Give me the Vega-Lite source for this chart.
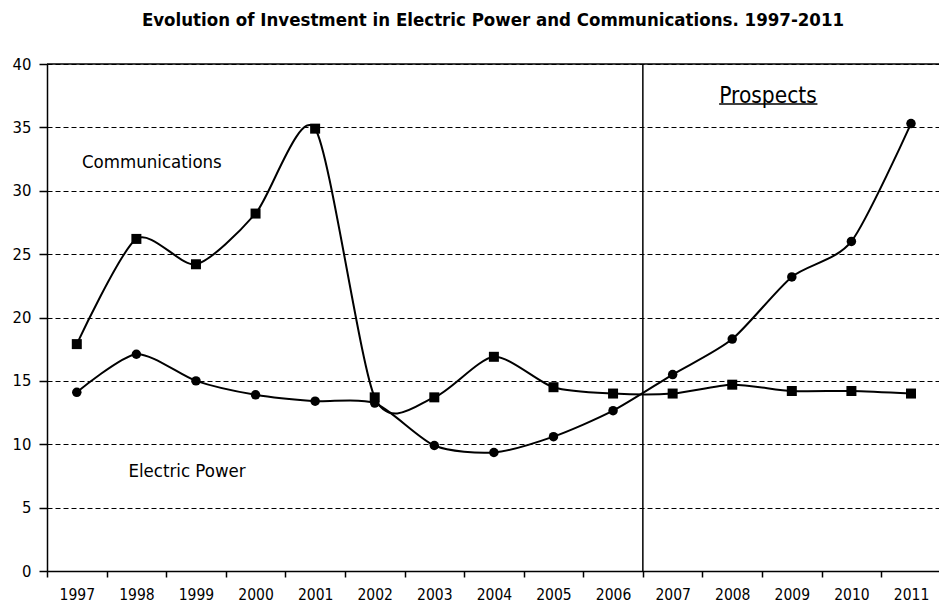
{
  "$schema": "https://vega.github.io/schema/vega-lite/v6.json",
  "width": 892,
  "height": 507,
  "autosize": "none",
  "padding": {"left": 47, "top": 64, "right": 0, "bottom": 36},
  "background": "white",
  "config": {
    "view": {"stroke": null},
    "font": "DejaVu Sans Condensed",
    "axis": {"labelFont": "DejaVu Sans Condensed", "labelColor": "black"}
  },
  "title": {
    "text": "Evolution of Investment in Electric Power and Communications. 1997-2011",
    "font": "DejaVu Sans Condensed",
    "fontSize": 18.5,
    "fontWeight": "bold",
    "color": "black",
    "anchor": "middle",
    "offset": 27
  },
  "datasets": {
    "series": [
      {"year": 1997, "series": "Communications", "value": 17.9},
      {"year": 1998, "series": "Communications", "value": 26.2},
      {"year": 1999, "series": "Communications", "value": 24.2},
      {"year": 2000, "series": "Communications", "value": 28.2},
      {"year": 2001, "series": "Communications", "value": 34.9},
      {"year": 2002, "series": "Communications", "value": 13.7},
      {"year": 2003, "series": "Communications", "value": 13.7},
      {"year": 2004, "series": "Communications", "value": 16.9},
      {"year": 2005, "series": "Communications", "value": 14.5},
      {"year": 2006, "series": "Communications", "value": 14.0},
      {"year": 2007, "series": "Communications", "value": 14.0},
      {"year": 2008, "series": "Communications", "value": 14.7},
      {"year": 2009, "series": "Communications", "value": 14.2},
      {"year": 2010, "series": "Communications", "value": 14.2},
      {"year": 2011, "series": "Communications", "value": 14.0},
      {"year": 1997, "series": "Electric Power", "value": 14.1},
      {"year": 1998, "series": "Electric Power", "value": 17.1},
      {"year": 1999, "series": "Electric Power", "value": 15.0},
      {"year": 2000, "series": "Electric Power", "value": 13.9},
      {"year": 2001, "series": "Electric Power", "value": 13.4},
      {"year": 2002, "series": "Electric Power", "value": 13.25},
      {"year": 2003, "series": "Electric Power", "value": 9.9},
      {"year": 2004, "series": "Electric Power", "value": 9.35},
      {"year": 2005, "series": "Electric Power", "value": 10.6},
      {"year": 2006, "series": "Electric Power", "value": 12.65},
      {"year": 2007, "series": "Electric Power", "value": 15.5},
      {"year": 2008, "series": "Electric Power", "value": 18.3},
      {"year": 2009, "series": "Electric Power", "value": 23.2},
      {"year": 2010, "series": "Electric Power", "value": 26.0},
      {"year": 2011, "series": "Electric Power", "value": 35.3}
    ],
    "labels": [
      {"label": "Communications", "year": 1998.26, "value": 32.3},
      {"label": "Electric Power", "year": 1998.85, "value": 7.9}
    ],
    "header": [
      {"label": "Prospects", "year": 2008.6, "value": 37.45}
    ],
    "one": [{}]
  },
  "layer": [
    {
      "data": {"name": "series"},
      "mark": {"type": "line", "interpolate": "cardinal", "tension": 0.25, "color": "black", "strokeWidth": 2},
      "encoding": {
        "x": {
          "field": "year", "type": "quantitative",
          "scale": {"domain": [1996.5, 2011.47], "nice": false, "zero": false},
          "axis": {
            "title": null,
            "values": [1996.5, 1997.5, 1998.5, 1999.5, 2000.5, 2001.5, 2002.5, 2003.5, 2004.5, 2005.5, 2006.5, 2007.5, 2008.5, 2009.5, 2010.5],
            "labelExpr": "format(datum.value + 0.5, 'd')",
            "labelOffset": 29.8,
            "labelFontSize": 15.5,
            "labelPadding": 10,
            "labelFlush": false,
            "labelOverlap": false,
            "grid": false,
            "tickSize": 6,
            "tickColor": "black",
            "tickWidth": 1.5,
            "domainColor": "black",
            "domainWidth": 1.5
          }
        },
        "y": {
          "field": "value", "type": "quantitative",
          "scale": {"domain": [0, 40], "nice": false},
          "axis": {
            "title": null,
            "values": [0, 5, 10, 15, 20, 25, 30, 35, 40],
            "labelFontSize": 16.5,
            "labelPadding": 8,
            "tickSize": 8,
            "tickColor": "black",
            "tickWidth": 1.5,
            "domainColor": "black",
            "domainWidth": 1.5,
            "grid": true,
            "gridColor": "black",
            "gridDash": [5, 3],
            "gridWidth": 1
          }
        },
        "detail": {"field": "series", "type": "nominal"}
      }
    },
    {
      "data": {"name": "series"},
      "mark": {"type": "point", "filled": true, "color": "black", "opacity": 1},
      "encoding": {
        "x": {"field": "year", "type": "quantitative"},
        "y": {"field": "value", "type": "quantitative"},
        "shape": {
          "field": "series", "type": "nominal",
          "scale": {"domain": ["Communications", "Electric Power"], "range": ["square", "circle"]},
          "legend": null
        },
        "size": {
          "field": "series", "type": "nominal",
          "scale": {"domain": ["Communications", "Electric Power"], "range": [100, 90]},
          "legend": null
        }
      }
    },
    {
      "data": {"name": "one"},
      "mark": {"type": "rule", "color": "black", "strokeWidth": 1.5},
      "encoding": {"y": {"datum": 40, "type": "quantitative"}}
    },
    {
      "data": {"name": "one"},
      "mark": {"type": "rule", "color": "black", "strokeWidth": 1.5},
      "encoding": {"x": {"datum": 2006.5, "type": "quantitative"}, "y": {"datum": 0, "type": "quantitative"}, "y2": {"datum": 40}}
    },
    {
      "data": {"name": "one"},
      "mark": {"type": "rule", "color": "black", "strokeWidth": 1.5},
      "encoding": {
        "x": {"datum": 2007.78, "type": "quantitative"},
        "x2": {"datum": 2009.43},
        "y": {"datum": 36.85, "type": "quantitative"}
      }
    },
    {
      "data": {"name": "labels"},
      "mark": {"type": "text", "color": "black", "baseline": "middle", "align": "center", "font": "DejaVu Sans Condensed", "fontSize": 18.5},
      "encoding": {
        "x": {"field": "year", "type": "quantitative"},
        "y": {"field": "value", "type": "quantitative"},
        "text": {"field": "label"}
      }
    },
    {
      "data": {"name": "header"},
      "mark": {"type": "text", "color": "black", "baseline": "middle", "align": "center", "font": "DejaVu Sans Condensed", "fontSize": 22.5},
      "encoding": {
        "x": {"field": "year", "type": "quantitative"},
        "y": {"field": "value", "type": "quantitative"},
        "text": {"field": "label"}
      }
    }
  ]
}
